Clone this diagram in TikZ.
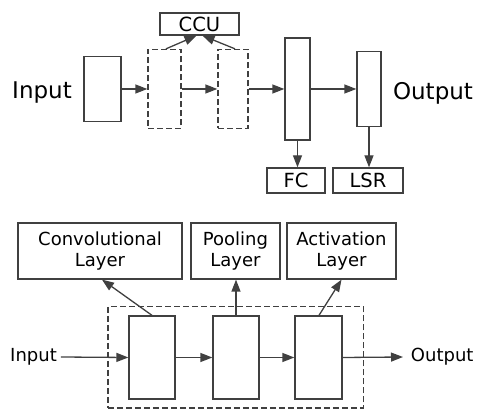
\documentclass[tikz,border=0pt]{standalone}
\usepackage{fontspec}
\setmainfont{DejaVu Sans}
\usetikzlibrary{arrows.meta,fit}
\definecolor{lc}{HTML}{404040}

\begin{document}
\begin{tikzpicture}[x=1pt,y=-1pt,line width=1.3pt,
  block/.style 2 args={draw=lc,inner sep=0pt,minimum width=#1,minimum height=#2},
  dashbox/.style={dash pattern=on 6pt off 3pt},
  arr/.style={draw=lc,-{Triangle[length=12pt,width=9pt]}},
  big/.style={font=\fontsize{23}{27}\selectfont},
  mid/.style={font=\fontsize{19.5}{23}\selectfont},
  small/.style={font=\fontsize{18}{21.7}\selectfont,align=center}]
  \useasboundingbox (0,0) rectangle (477,411);
  \node[big] (in1) at (42,93) {Input};
  \node[block={37pt}{65pt}] (b1) at (102.5,89) {};
  \node[block={33pt}{79pt},dashbox] (d2) at (164.5,89) {};
  \node[block={30pt}{79pt},dashbox] (d3) at (233,89) {};
  \node[block={25pt}{102pt}] (b4) at (297.5,89) {};
  \node[block={24pt}{75pt}] (b5) at (369,89) {};
  \node[big] (out1) at (433,93) {Output};
  \node[block={79pt}{22pt},mid] (ccu) at (199.5,24) {CCU};
  \node[block={58pt}{25pt},mid] (fc) at (296,180.5) {FC};
  \node[block={70pt}{25pt},mid] (lsr) at (368,180.5) {LSR};
  \draw[arr] (b1.east) -- (d2.west);
  \draw[arr] (d2.east) -- (d3.west);
  \draw[arr] (d3.east) -- (b4.west);
  \draw[arr] (b4.east) -- (b5.west);
  \draw[arr] ([xshift=1.5pt]d2.north) -- ([xshift=-3pt]ccu.south);
  \draw[arr] ([xshift=2pt]d3.north) -- ([xshift=3pt]ccu.south);
  \draw[arr] (b4.south) -- (b4.south |- fc.north);
  \draw[arr] (b5.south) -- (b5.south |- lsr.north);

  \node[block={164pt}{56pt},small] (conv) at (100,251) {Convolutional\\Layer};
  \node[block={89pt}{56pt},small] (pool) at (235.5,251) {Pooling\\Layer};
  \node[block={109pt}{56pt},small] (act) at (341.5,251) {Activation\\Layer};
  \node[block={46pt}{83pt}] (ba) at (152,357.5) {};
  \node[block={46pt}{83pt}] (bb) at (236,357.5) {};
  \node[block={47pt}{83pt}] (bc) at (318.5,357.5) {};
  \node[draw=lc,dashbox,fit=(ba)(bc),inner xsep=20.5pt,inner ysep=8.5pt] (frame) {};
  \node[small] (in2) at (33.5,357) {Input};
  \node[small,anchor=west] (out2) at (407,357) {Output};
  \draw[arr] (in2.east) -- (ba.west);
  \draw[arr] (ba.east) -- (bb.west);
  \draw[arr] (bb.east) -- (bc.west);
  \draw[arr] (bc.east) -- ([xshift=-4pt]out2.west);
  \draw[arr] (ba.north) -- ([xshift=2pt]conv.south);
  \draw[arr] (bb.north) -- (bb.north |- pool.south);
  \draw[arr] ([xshift=0.5pt]bc.north) -- (act.south);
\end{tikzpicture}
\end{document}
